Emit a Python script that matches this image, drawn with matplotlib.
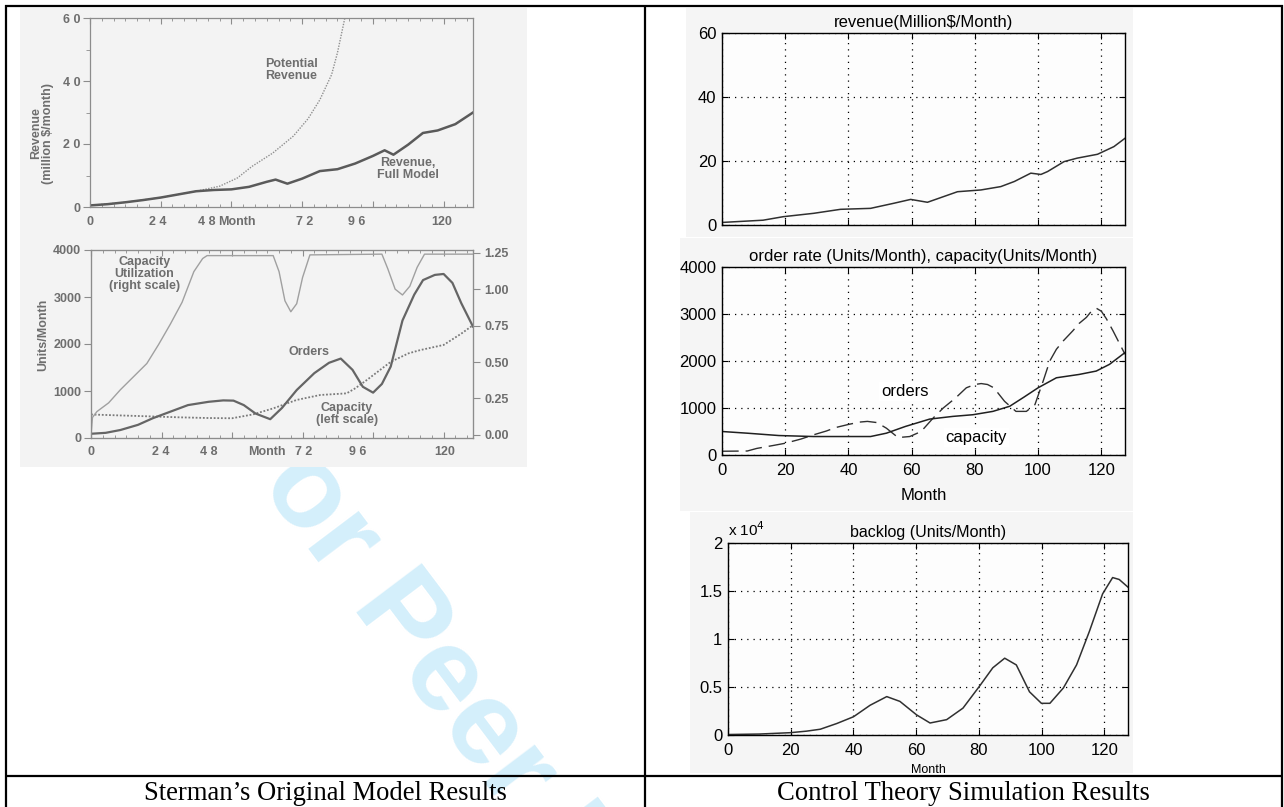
import matplotlib
matplotlib.use('Agg')
import matplotlib.pyplot as plt
from matplotlib import font_manager
from matplotlib.ticker import FixedLocator, FuncFormatter

# ---------------- data ----------------
# Sterman: revenue (million $/month)
st_rev_months = [0, 6, 12, 18, 24, 30, 36, 42, 48, 54, 60, 63, 67, 72, 78, 84, 90, 96, 100, 103, 108, 113, 118, 124, 130]
st_rev_full = [0.5, 0.9, 1.5, 2.2, 3.0, 4.0, 5.0, 5.4, 5.6, 6.4, 8.0, 8.7, 7.4, 9.0, 11.4, 12.0, 13.8, 16.2, 18.0, 16.6, 19.8, 23.5, 24.3, 26.3, 30.0]
st_pot_months = [0, 12, 24, 36, 44, 50, 55, 62, 69, 74, 78, 82, 84, 86.5]
st_pot_rev = [0.5, 1.5, 3.0, 5.0, 6.6, 9.2, 12.9, 17.1, 22.5, 28.0, 34.0, 42.0, 49.0, 60.0]

# Sterman: capacity utilization (right scale)
st_cu_months = [0, 0.5, 2, 6, 10, 15, 19, 23, 27, 31, 35, 38, 39.5, 62, 64, 66, 68, 70, 72, 74.5,
                99, 101, 103.5, 106, 108.5, 111, 113.5, 130]
st_cu = [0.0, 0.12, 0.16, 0.22, 0.31, 0.41, 0.49, 0.62, 0.76, 0.91, 1.12, 1.21, 1.23, 1.23, 1.12, 0.92, 0.845, 0.90, 1.08, 1.235,
         1.24, 1.14, 1.00, 0.96, 1.02, 1.15, 1.24, 1.24]
# Sterman: orders and capacity (units/month)
st_ord_months = [0, 5, 10, 16, 21, 27, 33, 40, 45, 48.5, 52, 56, 61, 65, 70, 76, 81, 85, 89, 92.5, 96, 99, 102, 106, 110, 113, 117, 120, 123, 126, 130]
st_orders = [90, 110, 170, 280, 420, 560, 700, 770, 800, 795, 700, 520, 400, 640, 1020, 1380, 1600, 1690, 1450, 1090, 965, 1150, 1520, 2500, 3050, 3360, 3470, 3490, 3300, 2870, 2370]
st_cap_months = [0, 10, 20, 30, 40, 48, 55, 62, 70, 78, 87, 90, 94, 102, 108, 112, 120, 126, 130]
st_capacity = [500, 480, 460, 440, 425, 420, 500, 630, 810, 915, 950, 1060, 1240, 1620, 1800, 1870, 1980, 2220, 2400]

# Control theory simulation
ct_rev_months = [0, 13, 19.4, 29, 37.5, 47, 54.4, 59.7, 65, 74.5, 81.9, 88.2, 92.5, 97.7, 100.9, 103, 108.2, 112.4, 118.8, 124, 127.5]
ct_revenue = [0.8, 1.5, 2.6, 3.65, 4.9, 5.2, 6.8, 8.0, 7.1, 10.4, 10.95, 12.0, 13.6, 16.2, 15.8, 16.7, 19.8, 20.9, 22.1, 24.5, 27.1]

ct_ord_months = [0, 8, 11, 16, 20, 25, 29, 33, 36, 40, 43.5, 46, 49, 52, 55.7, 59.4, 63, 66.8, 70, 74, 77.3, 80, 82, 84, 86,
                 89.4, 93, 96.3, 99, 101.6, 103.7, 105.8, 108, 111, 113, 115.3, 117, 118.5, 120, 121.6, 123.7, 127.5]
ct_orders = [80, 85, 140, 200, 250, 340, 430, 510, 585, 650, 700, 715, 690, 571, 371, 393, 500, 786, 1000, 1220, 1430, 1500, 1520, 1500, 1430,
             1142, 928, 928, 1071, 1571, 2000, 2250, 2430, 2643, 2800, 2929, 3070, 3120, 3060, 2900, 2643, 2143]
ct_cap_months = [0, 8, 18, 29, 39, 47, 52, 58, 65.7, 73, 79.4, 85.7, 91, 95.5, 100, 105.8, 113, 118.4, 122.6, 127.5]
ct_capacity = [500, 464, 414, 393, 393, 393, 464, 607, 764, 821, 857, 928, 1036, 1230, 1430, 1643, 1714, 1786, 1929, 2179]

ct_bl_months = [0, 10, 19.8, 25, 29.4, 34.7, 40, 45.3, 50.6, 54.8, 60.1, 64.4, 69.7, 74.9, 80.2, 84.4, 88.2, 91.9, 96.1, 99.9,
                102.6, 106.9, 111.1, 115.2, 119.4, 122.6, 124.7, 127.5]
ct_backlog = [50, 100, 240, 400, 600, 1200, 1900, 3100, 4000, 3500, 2100, 1250, 1600, 2800, 5100, 7000, 8000, 7300, 4500, 3300,
              3300, 4900, 7300, 10800, 14700, 16400, 16200, 15400]

st_month_ticks = [0, 24, 48, 72, 96, 120]
ct_month_ticks = [0, 20, 40, 60, 80, 100, 120]

captions = ["Sterman\u2019s Original Model Results", "Control Theory Simulation Results"]

# ---------------- layout ----------------
W, H = 1284, 807
fig = plt.figure(figsize=(W / 100, H / 100), dpi=100)
fig.patch.set_facecolor('white')

names = {f.name for f in font_manager.fontManager.ttflist}
SANS = 'Liberation Sans' if 'Liberation Sans' in names else 'DejaVu Sans'
SERIF = 'Liberation Serif' if 'Liberation Serif' in names else 'DejaVu Serif'
plt.rcParams['font.family'] = SANS


def ax_px(x0, y0, x1, y1, **kw):
    return fig.add_axes([x0 / W, 1 - y1 / H, (x1 - x0) / W, (y1 - y0) / H], **kw)


def bare(ax):
    for s in ax.spines.values():
        s.set_visible(False)
    ax.set_xticks([])
    ax.set_yticks([])


# background / table
bg = ax_px(0, 0, W, H)
bg.set_xlim(0, W)
bg.set_ylim(H, 0)
bg.axis('off')
bg.text(215, 425, 'For Peer Review', rotation=-53, rotation_mode='anchor', ha='left', va='baseline',
        fontsize=86, fontweight='bold', color='#d4effb', zorder=1)
lw_tab = 1.6
bg.plot([5, 1283], [6, 6], color='black', lw=lw_tab, zorder=3, solid_capstyle='butt')
bg.plot([5, 1283], [776, 776], color='black', lw=lw_tab, zorder=3, solid_capstyle='butt')
for xv in [6, 645, 1282]:
    bg.plot([xv, xv], [5, 807], color='black', lw=lw_tab, zorder=3, solid_capstyle='butt')
bg.text(325, 793, captions[0], ha='center', va='center', fontsize=19.2, family=SERIF, zorder=4)
bg.text(963, 793, captions[1], ha='center', va='center', fontsize=19.2, family=SERIF, zorder=4)

# ---------------- left scanned panel ----------------
GRAY = '#6e6e6e'
scan = ax_px(20, 8, 527, 467)
scan.set_facecolor('#f3f3f3')
bare(scan)
scan.set_xlim(20, 527)
scan.set_ylim(467, 8)
sfont = dict(fontweight='bold', color=GRAY, fontsize=9)


def style_scan(ax):
    for s in ax.spines.values():
        s.set_color('#8c8c8c')
        s.set_linewidth(0.9)
    ax.set_facecolor('none')
    ax.set_xlim(0, 130)
    ax.set_xticks(st_month_ticks)
    ax.set_xticklabels([])
    ax.xaxis.set_minor_locator(FixedLocator(list(range(0, 131, 4))))
    ax.tick_params(axis='x', which='both', direction='in', top=True, color='#8c8c8c')
    ax.tick_params(axis='x', which='major', length=4)
    ax.tick_params(axis='x', which='minor', length=2)
    ax.tick_params(axis='y', which='both', direction='out', color='#8c8c8c', labelcolor=GRAY,
                   labelsize=9, length=5, pad=2)


a1 = ax_px(90, 18, 473, 207)
style_scan(a1)
a1.set_ylim(0, 60)
a1.set_yticks([0, 20, 40, 60])
a1.set_yticklabels(['0', '2 0', '4 0', '6 0'], fontweight='bold')
a1.yaxis.set_minor_locator(FixedLocator([10, 30, 50]))
a1.tick_params(axis='y', which='minor', length=3)
a1.plot(st_pot_months, st_pot_rev, color='#8f8f8f', lw=1.0, ls=(0, (1, 1)), clip_on=True)
a1.plot(st_rev_months, st_rev_full, color='#5a5a5a', lw=1.8)
a1.text(0.525, 0.725, 'Potential\nRevenue', transform=a1.transAxes, ha='center', va='center',
        linespacing=1.0, **sfont)
a1.text(0.83, 0.2, 'Revenue,\nFull Model', transform=a1.transAxes, ha='center', va='center',
        linespacing=1.0, **sfont)
scan.text(42, 133, 'Revenue\n(million $/month)', rotation=90, ha='center', va='center', linespacing=1.0, **sfont)
for px, lab in [(90, '0'), (158, '2 4'), (207, '4 8'), (237, 'Month'), (305, '7 2'), (357, '9 6'), (442, '120')]:
    scan.text(px, 222, lab, ha='center', va='center', **sfont)

a2 = ax_px(91, 250, 473, 438)
style_scan(a2)
a2.set_ylim(0, 4000)
a2.set_yticks([0, 1000, 2000, 3000, 4000])
a2.set_yticklabels(['0', '1000', '2000', '3000', '4000'], fontweight='bold')
a2.plot(st_cap_months, st_capacity, color='#7a7a7a', lw=1.3, ls=(0, (1, 1)))
a2.plot(st_ord_months, st_orders, color='#656565', lw=1.6)
a2r = a2.twinx()
a2r.set_ylim(-0.021, 1.2685)
a2r.set_yticks([0, 0.25, 0.5, 0.75, 1.0, 1.25])
a2r.set_yticklabels(['0.00', '0.25', '0.50', '0.75', '1.00', '1.25'], fontweight='bold')
a2r.tick_params(axis='y', direction='out', color='#8c8c8c', labelcolor=GRAY, labelsize=9, length=5, pad=3)
for s in a2r.spines.values():
    s.set_color('#8c8c8c')
a2r.plot(st_cu_months, st_cu, color='#a0a0a0', lw=1.0)
a2.text(0.14, 0.87, 'Capacity\nUtilization\n(right scale)', transform=a2.transAxes, ha='center', va='center',
        linespacing=1.0, **sfont)
a2.text(0.57, 0.46, 'Orders', transform=a2.transAxes, ha='center', va='center', **sfont)
a2.text(0.67, 0.13, 'Capacity\n(left scale)', transform=a2.transAxes, ha='center', va='center',
        linespacing=1.0, **sfont)
scan.text(43, 335, 'Units/Month', rotation=90, ha='center', va='center', **sfont)
for px, lab in [(91, '0'), (161, '2 4'), (209, '4 8'), (267, 'Month'), (304, '7 2'), (358, '9 6'), (445, '120')]:
    scan.text(px, 452, lab, ha='center', va='center', **sfont)

# ---------------- right MATLAB panels ----------------
for box in [(686, 8, 1133, 237), (680, 238, 1133, 511), (690, 512, 1133, 773)]:
    p = ax_px(*box)
    p.set_facecolor('#f5f5f5')
    bare(p)

mfont = 12


def style_ml(ax):
    ax.set_facecolor('#fdfdfd')
    for s in ax.spines.values():
        s.set_color('black')
        s.set_linewidth(1.0)
    ax.set_xlim(0, 127.5)
    ax.set_xticks(ct_month_ticks)
    ax.grid(True, color='black', ls=(0, (1, 4)), lw=0.9)
    ax.tick_params(direction='in', length=4, top=True, right=True, labelsize=mfont, pad=4, color='black')
    ax.tick_params(axis='x', pad=6)


r1 = ax_px(722, 33, 1125, 225)
style_ml(r1)
r1.set_ylim(0, 60)
r1.set_yticks([0, 20, 40, 60])
r1.set_xticklabels([])
r1.plot(ct_rev_months, ct_revenue, color='#303030', lw=1.1)
r1.set_title('revenue(Million$/Month)', fontsize=mfont, pad=4)

r2 = ax_px(722, 267, 1125, 455)
style_ml(r2)
r2.set_ylim(0, 4000)
r2.set_yticks([0, 1000, 2000, 3000, 4000])
r2.plot(ct_ord_months, ct_orders, color='#303030', lw=1.0, ls=(0, (12, 5)))
r2.plot(ct_cap_months, ct_capacity, color='#202020', lw=1.1)
r2.set_title('order rate (Units/Month), capacity(Units/Month)', fontsize=mfont, pad=4)
r2.set_xlabel('Month', fontsize=mfont, labelpad=7)
r2.text(57.8, 1356, 'orders', ha='center', va='center', fontsize=mfont,
        bbox=dict(facecolor='white', edgecolor='none', pad=1.5))
r2.text(80.5, 379, 'capacity', ha='center', va='center', fontsize=mfont,
        bbox=dict(facecolor='white', edgecolor='none', pad=1.5))

r3 = ax_px(728, 543, 1128, 735)
style_ml(r3)
r3.set_ylim(0, 20000)
r3.set_yticks([0, 5000, 10000, 15000, 20000])
r3.yaxis.set_major_formatter(FuncFormatter(lambda v, p: f'{v / 1e4:g}'))
r3.plot(ct_bl_months, ct_backlog, color='#303030', lw=1.1)
r3.set_title('backlog (Units/Month)', fontsize=mfont - 0.5, pad=4)
r3.set_xlabel('Month', fontsize=9, labelpad=4)
r3.text(0.0, 1.02, r'x 10$^{4}$', transform=r3.transAxes, ha='left', va='bottom', fontsize=11)

fig.savefig('out.png', dpi=100, facecolor='white')
